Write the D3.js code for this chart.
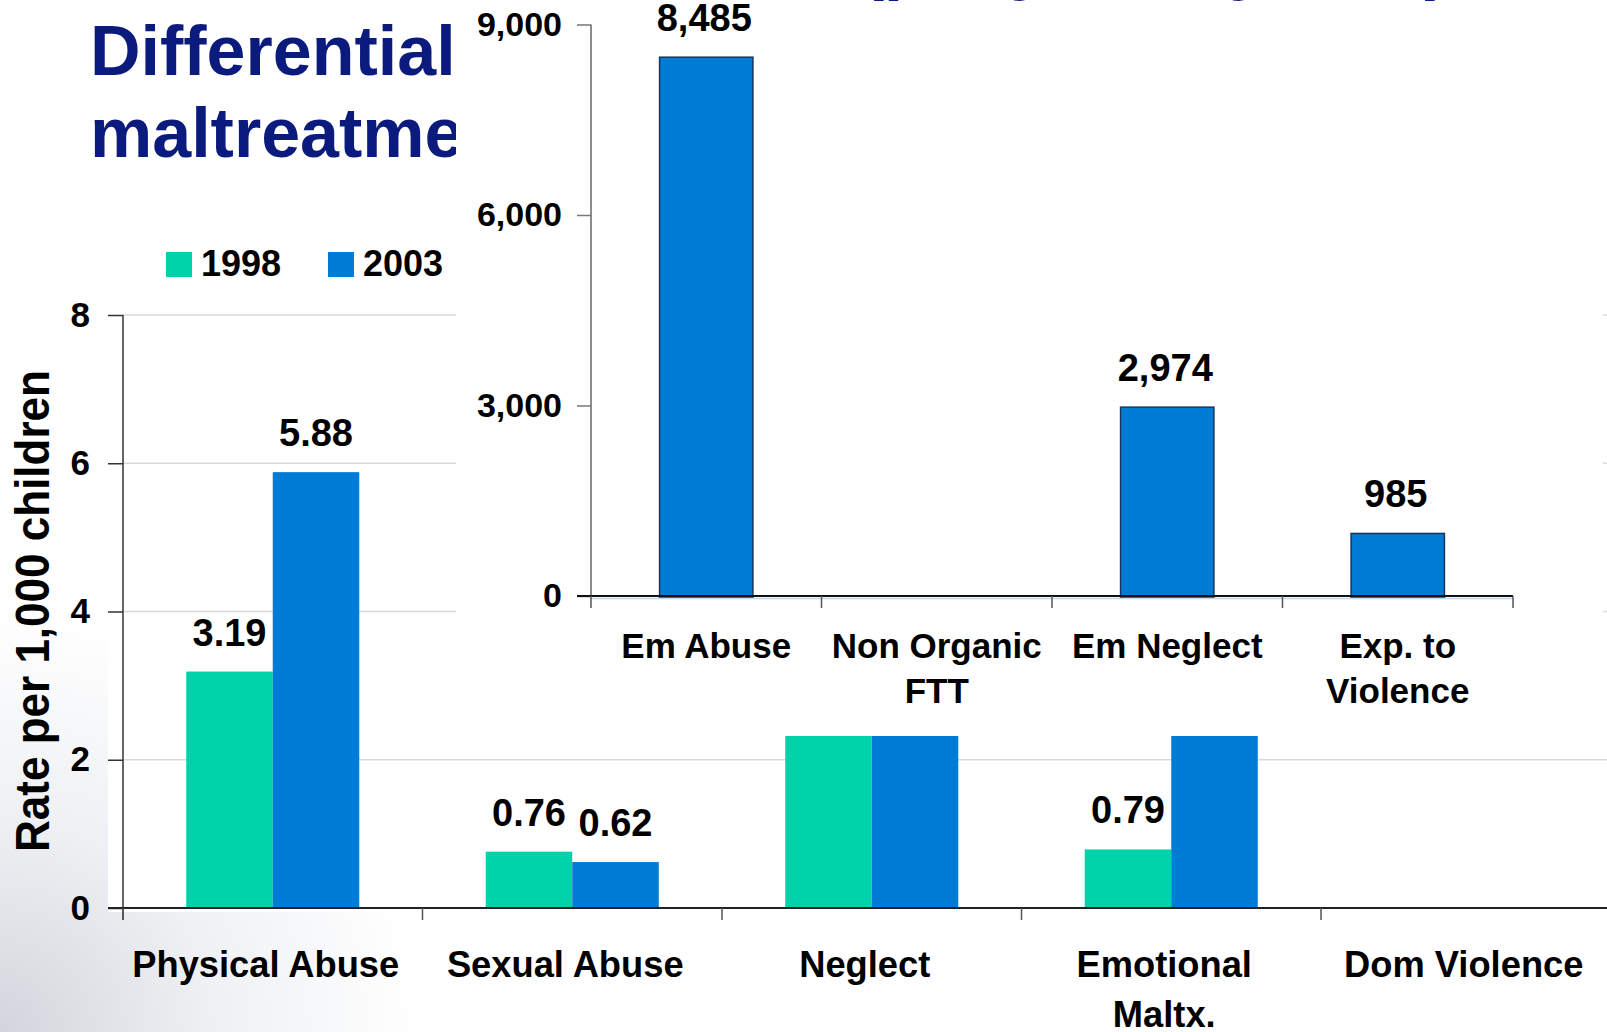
<!DOCTYPE html>
<html>
<head>
<meta charset="utf-8">
<script src="https://cdn.jsdelivr.net/npm/d3@7"></script>
<style>
  html, body { margin: 0; padding: 0; background: #ffffff; }
  svg { display: block; }
  text { font-family: "Liberation Sans", Arial, Helvetica, sans-serif; font-weight: bold; }
</style>
</head>
<body>
<svg id="chart" width="1607" height="1032"></svg>
<script>
// ---------------- data ----------------
const categories = ["Physical Abuse", "Sexual Abuse", "Neglect", "Emotional Maltx.", "Dom Violence"];
const categoryLines = [["Physical Abuse"], ["Sexual Abuse"], ["Neglect"], ["Emotional", "Maltx."], ["Dom Violence"]];
const years = ["1998", "2003"];
const rate1998 = [3.19, 0.76, 3.52, 0.79, null];
const rate2003 = [5.88, 0.62, 6.38, 3.23, null];
const rateTicks = [0, 2, 4, 6, 8];
const yAxisTitle = "Rate per 1,000 children";

const titleLines = ["Differential rates of", "maltreatment by type"];

const insetCategories = ["Em Abuse", "Non Organic FTT", "Em Neglect", "Exp. to Violence"];
const insetLines = [["Em Abuse"], ["Non Organic", "FTT"], ["Em Neglect"], ["Exp. to", "Violence"]];
const insetValues = [8485, 0, 2974, 985];
const insetTicks = [0, 3000, 6000, 9000];
const insetTitle = "(per year, by Ont.)";

// ---------------- setup ----------------
const W = 1607, H = 1032;
const svg = d3.select("#chart");
const teal = "#00d2aa", blue = "#007bd6", navy = "#0b1a7d";
const yearColor = d3.scaleOrdinal().domain(years).range([teal, blue]);
const series = { "1998": rate1998, "2003": rate2003 };

// background haze
const defs = svg.append("defs");
const rg = defs.append("radialGradient").attr("id", "haze")
  .attr("gradientUnits", "userSpaceOnUse").attr("cx", 0).attr("cy", H).attr("r", 420);
rg.append("stop").attr("offset", "0%").attr("stop-color", "#d2d5dc");
rg.append("stop").attr("offset", "50%").attr("stop-color", "#eef0f3");
rg.append("stop").attr("offset", "100%").attr("stop-color", "#ffffff");
svg.append("rect").attr("width", W).attr("height", H).attr("fill", "url(#haze)");
svg.append("rect").attr("x", 108).attr("y", 290).attr("width", W - 108).attr("height", 622).attr("fill", "#ffffff");

// ---------------- background chart ----------------
const y = d3.scaleLinear().domain([0, 8]).range([908, 315]);
const x0 = d3.scaleBand().domain(categories).range([123, 123 + 5 * 299.5]).padding(0);
const x1 = d3.scaleBand().domain(years).range([0, x0.bandwidth()]).paddingInner(0).paddingOuter(0.731);

// gridlines
svg.append("g").selectAll("line").data(rateTicks.filter(d => d > 0)).join("line")
  .attr("x1", 123).attr("x2", W)
  .attr("y1", d => y(d)).attr("y2", d => y(d))
  .attr("stroke", "#d9d9d9").attr("stroke-width", 1.5);

// bars
const barData = [];
categories.forEach((c, i) => years.forEach(yr => {
  const v = series[yr][i];
  if (v !== null && v !== undefined) barData.push({ c, yr, v });
}));
svg.append("g").selectAll("rect").data(barData).join("rect")
  .attr("x", d => x0(d.c) + x1(d.yr))
  .attr("width", x1.bandwidth())
  .attr("y", d => y(d.v))
  .attr("height", d => y(0) - y(d.v))
  .attr("fill", d => yearColor(d.yr));

// value labels
svg.append("g").selectAll("text").data(barData).join("text")
  .attr("x", d => x0(d.c) + x1(d.yr) + x1.bandwidth() / 2)
  .attr("y", d => y(d.v) - 26)
  .attr("text-anchor", "middle")
  .attr("font-size", 38)
  .attr("fill", "#000")
  .text(d => d3.format(".2f")(d.v));

// y axis
const yAxis = svg.append("g").attr("transform", "translate(123,0)")
  .call(d3.axisLeft(y).tickValues(rateTicks).tickSize(15).tickSizeOuter(0).tickPadding(18).tickFormat(d3.format("d")));
yAxis.select(".domain").remove();
yAxis.selectAll(".tick line").attr("stroke", "#333").attr("stroke-width", 1.5);
yAxis.selectAll(".tick text").attr("font-size", 35).attr("fill", "#000")
  .attr("font-family", "'Liberation Sans', Arial, sans-serif").attr("font-weight", "bold");
svg.append("line").attr("x1", 123).attr("x2", 123).attr("y1", y(8)).attr("y2", 920)
  .attr("stroke", "#333").attr("stroke-width", 1.5);

// x axis
svg.append("line").attr("x1", 108).attr("x2", W).attr("y1", y(0)).attr("y2", y(0))
  .attr("stroke", "#222").attr("stroke-width", 1.8);
const bounds = categories.map(c => x0(c));
svg.append("g").selectAll("line").data(bounds).join("line")
  .attr("x1", d => d).attr("x2", d => d).attr("y1", y(0)).attr("y2", 920)
  .attr("stroke", "#555").attr("stroke-width", 1.5);

// category labels
const catG = svg.append("g");
categories.forEach((c, i) => {
  const cx = x0(c) + x0.bandwidth() / 2 - 7;
  const t = catG.append("text")
    .attr("x", cx)
    .attr("y", 977)
    .attr("text-anchor", "middle").attr("font-size", 36.3).attr("fill", "#000");
  categoryLines[i].forEach((ln, k) => {
    t.append("tspan").attr("x", cx).attr("dy", k === 0 ? 0 : 50).text(ln);
  });
});

// legend
const legX = [166, 328];
const leg = svg.append("g").selectAll("g").data(years).join("g")
  .attr("transform", (d, i) => `translate(${legX[i]},252)`);
leg.append("rect").attr("width", 26).attr("height", 25).attr("fill", d => yearColor(d));
leg.append("text").attr("x", 35).attr("y", 24).attr("font-size", 36).attr("fill", "#000").text(d => d);

// y axis title
svg.append("text")
  .attr("transform", "translate(49,611) rotate(-90)")
  .attr("text-anchor", "middle")
  .attr("font-size", 49)
  .attr("textLength", 482).attr("lengthAdjust", "spacingAndGlyphs")
  .attr("fill", "#000")
  .text(yAxisTitle);

// title
svg.append("g").selectAll("text").data(titleLines).join("text")
  .attr("x", 90).attr("y", (d, i) => 75 + i * 82)
  .attr("font-size", 70).attr("fill", navy).text(d => d);

// ---------------- inset chart ----------------
const inset = svg.append("g");
inset.append("rect").attr("x", 456).attr("y", 0).attr("width", 1603 - 456).attr("height", 736).attr("fill", "#ffffff");

// peeking title descenders
inset.append("text").attr("x", 861).attr("y", -13).attr("font-size", 69).attr("fill", navy).text(insetTitle);

const yi = d3.scaleLinear().domain([0, 9000]).range([596, 24.5]);
const xi = d3.scaleBand().domain(insetCategories).range([591, 1513]).padding(0);
const barFrac = 0.405;

// y axis
inset.append("line").attr("x1", 591).attr("x2", 591).attr("y1", yi(9000)).attr("y2", yi(0))
  .attr("stroke", "#666").attr("stroke-width", 1.5);
const yiAxis = inset.append("g").attr("transform", "translate(591,0)")
  .call(d3.axisLeft(yi).tickValues(insetTicks).tickSize(14).tickSizeOuter(0).tickPadding(15).tickFormat(d3.format(",")));
yiAxis.select(".domain").remove();
yiAxis.selectAll(".tick line").attr("stroke", "#777").attr("stroke-width", 1.5);
yiAxis.selectAll(".tick text").attr("font-size", 34).attr("fill", "#000")
  .attr("font-family", "'Liberation Sans', Arial, sans-serif").attr("font-weight", "bold");

// bars
const insetData = insetCategories.map((c, i) => ({ c, v: insetValues[i], lines: insetLines[i] }));
const bw = xi.bandwidth() * barFrac;
inset.append("g").selectAll("rect").data(insetData.filter(d => d.v > 0)).join("rect")
  .attr("x", d => xi(d.c) + (xi.bandwidth() - bw) / 2)
  .attr("width", bw)
  .attr("y", d => yi(d.v))
  .attr("height", d => yi(0) - yi(d.v) + 2)
  .attr("fill", blue).attr("stroke", "#17365a").attr("stroke-width", 1.5);

inset.append("g").selectAll("text").data(insetData.filter(d => d.v > 0)).join("text")
  .attr("x", d => xi(d.c) + xi.bandwidth() / 2 - 2)
  .attr("y", d => yi(d.v) - 26)
  .attr("text-anchor", "middle").attr("font-size", 38).attr("fill", "#000")
  .text(d => d3.format(",")(d.v));

// x axis
inset.append("line").attr("x1", 591).attr("x2", 1513).attr("y1", yi(0) + 2.5).attr("y2", yi(0) + 2.5)
  .attr("stroke", "#bcdcf2").attr("stroke-width", 1.5);
inset.append("line").attr("x1", 577).attr("x2", 1513).attr("y1", yi(0)).attr("y2", yi(0))
  .attr("stroke", "#111").attr("stroke-width", 1.8);
const ib = insetCategories.map(c => xi(c)).concat([xi.range()[1]]);
inset.append("g").selectAll("line").data(ib).join("line")
  .attr("x1", d => d).attr("x2", d => d).attr("y1", yi(0)).attr("y2", 608)
  .attr("stroke", "#555").attr("stroke-width", 1.5);

// category labels
insetData.forEach(d => {
  const cx = xi(d.c) + xi.bandwidth() / 2;
  const t = inset.append("text").attr("x", cx).attr("y", 658)
    .attr("text-anchor", "middle").attr("font-size", 35).attr("fill", "#000");
  d.lines.forEach((ln, k) => t.append("tspan").attr("x", cx).attr("dy", k === 0 ? 0 : 45).text(ln));
});
</script>
</body>
</html>
